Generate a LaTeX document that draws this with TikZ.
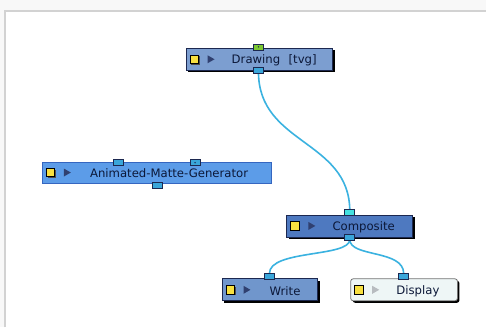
\documentclass[tikz,border=0pt]{standalone}
\usepackage{fontspec}
\setmainfont{DejaVu Sans}
\usetikzlibrary{shadows}
\definecolor{bgout}{HTML}{F8F8F8}
\definecolor{frameline}{HTML}{D2D2D2}
\definecolor{drawfill}{HTML}{7C9ED0}
\definecolor{amgfill}{HTML}{5C9CE8}
\definecolor{amgline}{HTML}{3566C0}
\definecolor{compfill}{HTML}{4E79C0}
\definecolor{writefill}{HTML}{7096CC}
\definecolor{dispfill}{HTML}{EEF6F6}
\definecolor{nodeline}{HTML}{1C2850}
\definecolor{wire}{HTML}{3AB2E0}
\definecolor{portblue}{HTML}{3AA6DA}
\definecolor{portgreen}{HTML}{7CC832}
\definecolor{portcyan}{HTML}{44E0E0}
\definecolor{iconyellow}{HTML}{F8E040}
\definecolor{tri}{HTML}{304070}
\definecolor{trilight}{HTML}{B8BCC0}
\definecolor{txt}{HTML}{0C1838}
\begin{document}
\begin{tikzpicture}[x=1pt,y=-1pt,
  nodebox/.style={draw=nodeline, line width=0.8pt, anchor=north west, inner sep=0pt,
     minimum height=22pt, general shadow={fill=black, shadow xshift=2pt, shadow yshift=-2pt}},
  portbox/.style={draw=nodeline, line width=0.6pt, fill=portblue, minimum width=10pt, minimum height=6pt, inner sep=0pt},
  yicon/.style={draw=black, line width=0.6pt, fill=iconyellow, minimum size=8.5pt, inner sep=0pt, anchor=west,
     general shadow={fill=black!70, shadow xshift=1.3pt, shadow yshift=-1.3pt}},
  lbl/.style={anchor=west, inner sep=0pt, text=txt, font=\fontsize{11.7}{13}\selectfont},
  wirestyle/.style={draw=wire, line width=1.6pt}
]
% frame
\fill[bgout] (0,0) rectangle (487,328);
\fill[white] (5,11) rectangle (487,328);
\draw[frameline, line width=2pt] (5,328) -- (5,11) -- (487,11);
\useasboundingbox (0,0) rectangle (487,328);

% Drawing node
\node[nodebox, fill=drawfill, minimum width=147pt] (drw) at (186,48) {};
% Animated-Matte-Generator
\node[draw=amgline, line width=0.8pt, anchor=north west, inner sep=0pt, minimum height=21pt,
      minimum width=230pt, fill=amgfill] (amg) at (42,162) {};
% Composite
\node[nodebox, fill=compfill, minimum width=126pt] (cmp) at (287,215) {};
% Write
\node[nodebox, fill=writefill, minimum width=96pt] (wrt) at (222,279) {};
% Display
\node[nodebox, draw=black!55, fill=dispfill, minimum width=107pt, rounded corners=2.5pt] (dsp) at (351,279) {};

% icons
\foreach \n in {drw,amg,cmp,wrt,dsp}{
  \node[yicon] (\n-y) at ([xshift=4pt]\n.west) {};
}
\foreach \n in {drw,amg,cmp,wrt}{
  \fill[tri] ([xshift=22pt,yshift=4pt]\n.west) -- ([xshift=29pt]\n.west) -- ([xshift=22pt,yshift=-4pt]\n.west) -- cycle;
}
\fill[trilight] ([xshift=22pt,yshift=4pt]dsp.west) -- ([xshift=29pt]dsp.west) -- ([xshift=22pt,yshift=-4pt]dsp.west) -- cycle;

% labels
\node[lbl] (drw-t) at ([xshift=46pt,yshift=-1pt]drw.west) {Drawing\hspace{0.4em} [tvg]};
\node[lbl] (amg-t) at ([xshift=48pt,yshift=-1pt]amg.west) {Animated-Matte-Generator};
\node[lbl] (cmp-t) at ([xshift=46pt,yshift=-1pt]cmp.west) {Composite};
\node[lbl] (wrt-t) at ([xshift=48pt,yshift=-1pt]wrt.west) {Write};
\node[lbl] (dsp-t) at ([xshift=46pt,yshift=-1pt]dsp.west) {Display};

% wires
\draw[wirestyle] (259,72) .. controls (259,145) and (350,140) .. (350.5,211);
\draw[wirestyle] (350.5,240) .. controls (350.5,258) and (270,250) .. (270,274);
\draw[wirestyle] (350.5,240) .. controls (350.5,258) and (404.5,250) .. (404.5,274);

% ports
\node[portbox, fill=portgreen] (drw-in) at (259,47) {};
\fill[nodeline] (drw-in.center) circle (0.8pt);
\node[portbox] (drw-out) at (259,70) {};
\node[portbox] (amg-in1) at (118.5,163) {};
\node[portbox] (amg-in2) at (195.5,163) {};
\fill[nodeline] (amg-in2.center) circle (0.8pt);
\node[portbox] (amg-out) at (157.5,186) {};
\node[portbox, fill=portcyan] (cmp-in) at (350.5,213) {};
\node[portbox] (cmp-out) at (350.5,238) {};
\node[portbox] (wrt-in) at (270,276.5) {};
\node[portbox] (dsp-in) at (404.5,276.5) {};
\end{tikzpicture}
\end{document}
